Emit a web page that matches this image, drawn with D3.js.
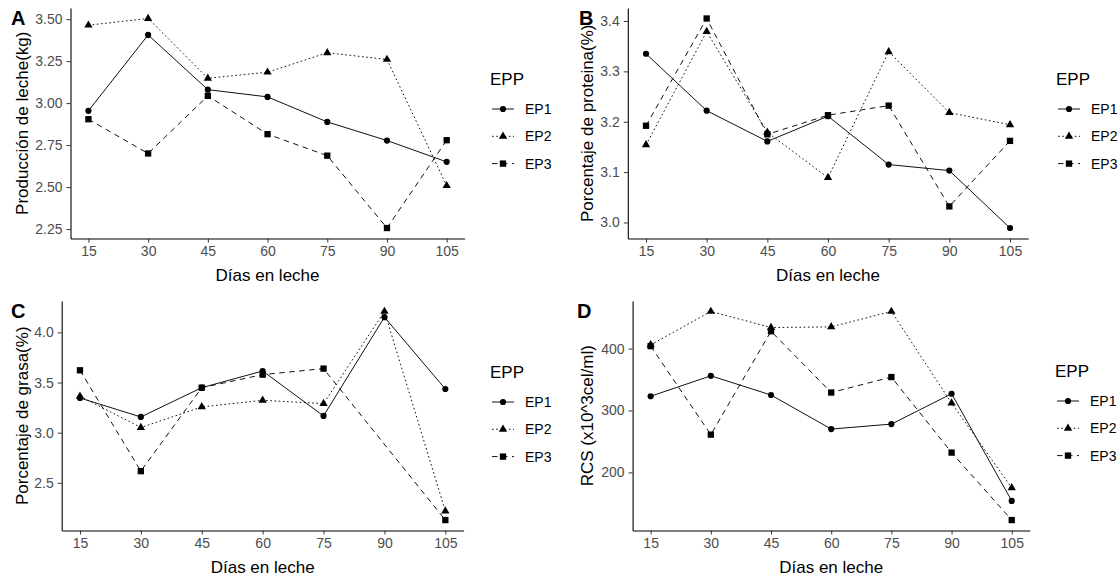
<!DOCTYPE html>
<html>
<head>
<meta charset="utf-8">
<script src="https://cdn.jsdelivr.net/npm/d3@7/dist/d3.min.js"></script>
<style>
  html, body { margin: 0; padding: 0; background: #ffffff; }
  svg { display: block; font-family: "Liberation Sans", Arial, sans-serif; }
</style>
</head>
<body>
<svg id="chart" width="1118" height="578"></svg>
<script>
// ---------- data ----------
const days = [15, 30, 45, 60, 75, 90, 105];
const groups = ["EP1", "EP2", "EP3"];
const legendTitle = "EPP";
const xTitle = "Días en leche";

// A: Producción de leche (kg)
const prodEP1 = [2.954, 3.406, 3.080, 3.037, 2.888, 2.777, 2.650];
const prodEP2 = [3.464, 3.504, 3.148, 3.184, 3.300, 3.260, 2.508];
const prodEP3 = [2.904, 2.700, 3.043, 2.815, 2.687, 2.256, 2.779];
const prodTicks = [2.25, 2.50, 2.75, 3.00, 3.25, 3.50];

// B: Porcentaje de proteina (%)
const protEP1 = [3.335, 3.222, 3.161, 3.211, 3.115, 3.103, 2.989];
const protEP2 = [3.154, 3.379, 3.179, 3.089, 3.339, 3.218, 3.194];
const protEP3 = [3.192, 3.405, 3.175, 3.213, 3.232, 3.032, 3.162];
const protTicks = [3.0, 3.1, 3.2, 3.3, 3.4];

// C: Porcentaje de grasa (%)
const grasaEP1 = [3.346, 3.157, 3.449, 3.615, 3.167, 4.152, 3.436];
const grasaEP2 = [3.363, 3.052, 3.257, 3.323, 3.290, 4.209, 2.218];
const grasaEP3 = [3.622, 2.617, 3.449, 3.579, 3.639, null, 2.129];
const grasaTicks = [2.5, 3.0, 3.5, 4.0];

// D: RCS (x10^3 cel/ml)
const rcsEP1 = [323, 356, 325, 270, 278, 327, 154];
const rcsEP2 = [406, 460, 434, 435, 460, 312, 175];
const rcsEP3 = [404, 261, 428, 329, 354, 232, 123];
const rcsTicks = [200, 300, 400];

// ---------- layout ----------
const panels = [
  { letter: "A", ytitle: "Producción de leche(kg)", series: [prodEP1, prodEP2, prodEP3], ticks: prodTicks, fmt: ".2f",
    box: { l: 70.5, r: 464.6, t: 8, b: 238.5 }, letterPos: [11, 25], ytx: 28, leg: { x: 490, y: 85 } },
  { letter: "B", ytitle: "Porcentaje de proteina(%)", series: [protEP1, protEP2, protEP3], ticks: protTicks, fmt: ".1f",
    box: { l: 627.8, r: 1028.2, t: 8, b: 238.5 }, letterPos: [579, 25], ytx: 593, leg: { x: 1056, y: 85 } },
  { letter: "C", ytitle: "Porcentaje de grasa(%)", series: [grasaEP1, grasaEP2, grasaEP3], ticks: grasaTicks, fmt: ".1f",
    box: { l: 61.7, r: 463.6, t: 301, b: 530.5 }, letterPos: [11, 318], ytx: 28, leg: { x: 490, y: 378 } },
  { letter: "D", ytitle: "RCS (x10^3cel/ml)", series: [rcsEP1, rcsEP2, rcsEP3], ticks: rcsTicks, fmt: "d",
    box: { l: 632.6, r: 1029.8, t: 301, b: 530.5 }, letterPos: [577, 318], ytx: 593, leg: { x: 1055, y: 377 } }
];

const dashes = ["none", "1.6,2.6", "5.5,4.5"];
const symbols = [
  d3.symbol().type(d3.symbolCircle).size(30),
  d3.symbol().type(d3.symbolTriangle).size(30),
  d3.symbol().type(d3.symbolSquare).size(40)
];
const ink = "#111111";
const tickColor = "#4d4d4d";

const svg = d3.select("#chart");

panels.forEach(p => {
  const g = svg.append("g");
  const { l, r, t, b } = p.box;

  const x = d3.scaleLinear().domain([days[0] - 4.5, days[days.length - 1] + 4.5]).range([l, r]);
  const all = p.series.flat().filter(v => v != null);
  const [mn, mx] = d3.extent(all);
  const pad = (mx - mn) * 0.05;
  const y = d3.scaleLinear().domain([mn - pad, mx + pad]).range([b, t]);

  // axes
  const xAxis = d3.axisBottom(x).tickValues(days).tickSize(4).tickPadding(3.5).tickSizeOuter(0);
  const yAxis = d3.axisLeft(y).tickValues(p.ticks).tickFormat(d3.format(p.fmt)).tickSize(4).tickPadding(4).tickSizeOuter(0);

  const gx = g.append("g").attr("transform", `translate(0,${b})`).call(xAxis);
  const gy = g.append("g").attr("transform", `translate(${l},0)`).call(yAxis);
  [gx, gy].forEach(ax => {
    ax.select(".domain").attr("stroke", "#000").attr("stroke-width", 1.1);
    ax.selectAll(".tick line").attr("stroke", "#333").attr("stroke-width", 1);
    ax.selectAll(".tick text").attr("fill", tickColor).style("font-size", "14px").style("font-family", "Liberation Sans, Arial, sans-serif");
  });

  // axis titles
  g.append("text")
    .attr("x", (l + r) / 2).attr("y", b + 42)
    .attr("text-anchor", "middle").attr("fill", "#000")
    .style("font-size", "17px")
    .text(xTitle);
  g.append("text")
    .attr("transform", `translate(${p.ytx},${(t + b) / 2}) rotate(-90)`)
    .attr("text-anchor", "middle").attr("fill", "#000")
    .style("font-size", "17px")
    .text(p.ytitle);

  // lines + points
  p.series.forEach((vals, i) => {
    const pts = days.map((d, k) => ({ d, v: vals[k] })).filter(o => o.v != null);
    const line = d3.line().x(o => x(o.d)).y(o => y(o.v));
    g.append("path").datum(pts)
      .attr("d", line).attr("fill", "none")
      .attr("stroke", ink).attr("stroke-width", 1)
      .attr("stroke-dasharray", dashes[i]);
    g.selectAll(null).data(pts).enter().append("path")
      .attr("d", symbols[i])
      .attr("transform", o => `translate(${x(o.d)},${y(o.v)})`)
      .attr("fill", "#000");
  });

  // panel letter
  g.append("text")
    .attr("x", p.letterPos[0]).attr("y", p.letterPos[1])
    .style("font-size", "20px").style("font-weight", "bold").attr("fill", "#000")
    .text(p.letter);

  // legend
  const lg = g.append("g");
  lg.append("text").attr("x", p.leg.x).attr("y", p.leg.y)
    .style("font-size", "17px").attr("fill", "#000").text(legendTitle);
  groups.forEach((name, i) => {
    const cy = p.leg.y + 24 + i * 27.3;
    const x0 = p.leg.x + 2, x1 = p.leg.x + 24;
    lg.append("line").attr("x1", x0).attr("x2", x1).attr("y1", cy).attr("y2", cy)
      .attr("stroke", ink).attr("stroke-width", 1).attr("stroke-dasharray", dashes[i]);
    lg.append("path").attr("d", symbols[i]).attr("transform", `translate(${(x0 + x1) / 2},${cy})`).attr("fill", "#000");
    lg.append("text").attr("x", p.leg.x + 35).attr("y", cy + 5)
      .style("font-size", "14px").attr("fill", "#000").text(name);
  });
});
</script>
</body>
</html>
